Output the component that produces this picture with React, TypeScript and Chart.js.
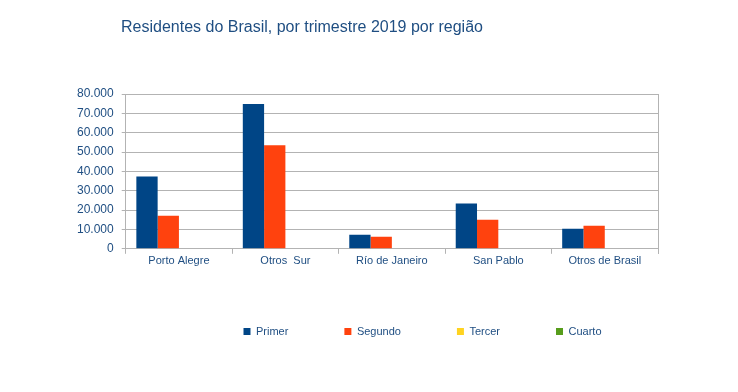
import React, { useEffect, useRef } from "react";
import { Chart, registerables } from "chart.js";

Chart.register(...registerables);

const categories = ["Porto Alegre", "Otros  Sur", "Río de Janeiro", "San Pablo", "Otros de Brasil"];
const primer = [37400, 74800, 7300, 23400, 10400];
const segundo = [17100, 53500, 6200, 15000, 11900];
const tercer = [0, 0, 0, 0, 0];
const cuarto = [0, 0, 0, 0, 0];
const seriesNames = ["Primer", "Segundo", "Tercer", "Cuarto"];
const seriesColors = ["#004586", "#ff420e", "#ffd320", "#579d1c"];
const titleText = "Residentes do Brasil, por trimestre 2019 por região";

const textColor = "#1f4e82";
const gridColor = "#b3b3b3";
const fontFamily = "'Liberation Sans', Arial, sans-serif";

export default function App() {
  const ref = useRef<HTMLCanvasElement | null>(null);
  useEffect(() => {
    document.body.style.margin = "0";
    if (!ref.current) return;
    const titlePlugin = {
      id: "customTitle",
      afterDraw(chart: any) {
        const ctx = chart.ctx;
        ctx.save();
        ctx.font = "16px " + fontFamily;
        ctx.fillStyle = textColor;
        ctx.textBaseline = "middle";
        ctx.textAlign = "left";
        ctx.fillText(titleText, 121, 28);
        ctx.restore();
      },
    };
    const legendShift = {
      id: "legendShift",
      afterLayout(chart: any) {
        const lg = chart.legend;
        if (!lg) return;
        lg.left += 59;
        lg.right += 59;
        lg.top += 1;
        lg.bottom += 1;
      },
    };
    const borderPlugin = {
      id: "rightBorder",
      afterDatasetsDraw(chart: any) {
        const { ctx, chartArea } = chart;
        ctx.save();
        ctx.strokeStyle = gridColor;
        ctx.lineWidth = 1;
        ctx.beginPath();
        const x = Math.round(chartArea.right) + 0.5;
        ctx.moveTo(x, chartArea.top);
        ctx.lineTo(x, chartArea.bottom + 5);
        ctx.stroke();
        ctx.restore();
      },
    };
    const dataArrays = [primer, segundo, tercer, cuarto];
    const chart = new Chart(ref.current, {
      type: "bar",
      data: {
        labels: categories,
        datasets: seriesNames.map((n, i) => ({
          label: n,
          data: dataArrays[i],
          backgroundColor: seriesColors[i],
          borderWidth: 0,
          categoryPercentage: 0.8,
          barPercentage: 1.0,
        })),
      },
      options: {
        animation: false,
        responsive: false,
        layout: { padding: { left: 69, right: 80, top: 94, bottom: 46 } },
        plugins: {
          title: { display: false },
          tooltip: { enabled: false },
          legend: {
            position: "bottom",
            labels: {
              boxWidth: 7,
              boxHeight: 7,
              padding: 56,
              color: textColor,
              font: { family: fontFamily, size: 11 },
            },
          },
        },
        scales: {
          x: {
            grid: { display: true, drawOnChartArea: false, drawTicks: true, tickLength: 5, color: gridColor, offset: true },
            border: { display: true, color: gridColor },
            ticks: {
              color: textColor,
              padding: 1,
              font: { family: fontFamily, size: 11 },
              maxRotation: 0,
            },
          },
          y: {
            min: 0,
            max: 80000,
            ticks: {
              stepSize: 10000,
              color: textColor,
              padding: 8,
              font: { family: fontFamily, size: 12 },
              callback: (v: any) => Number(v).toLocaleString("de-DE"),
            },
            grid: { color: gridColor, tickLength: 4 },
            border: { display: true, color: gridColor },
          },
        },
      },
      plugins: [titlePlugin, legendShift, borderPlugin],
    });
    return () => chart.destroy();
  }, []);
  return (
    <div style={{ position: "absolute", left: 0, top: 0, width: 738, height: 392, background: "#fff" }}>
      <canvas ref={ref} width={738} height={392} />
    </div>
  );
}
